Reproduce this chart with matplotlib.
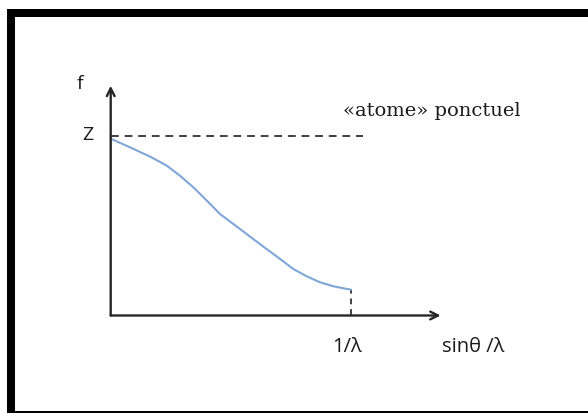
import matplotlib
matplotlib.use("Agg")
import matplotlib.pyplot as plt
from matplotlib.patches import Rectangle

# Atomic scattering factor f versus sin(theta)/lambda (schematic)
s_values = [0.0, 0.080, 0.164, 0.233, 0.288, 0.344, 0.400, 0.455, 0.510,
            0.538, 0.593, 0.649, 0.705, 0.760, 0.816, 0.871, 0.926, 0.982, 1.0]
f_values = [0.985, 0.937, 0.885, 0.835, 0.779, 0.714, 0.640, 0.565, 0.510,
            0.482, 0.426, 0.370, 0.315, 0.259, 0.218, 0.185, 0.163, 0.148, 0.144]
z_level = 1.0          # point atom: f = Z at all angles
s_limit = 1.0          # 1/lambda
point_atom_end = 1.05

label_f = "f"
label_z = "Z"
label_point = "«atome» ponctuel"
label_limit = "1/λ"
label_x = "sinθ /λ"

W, H, DPI = 588, 414, 100
fig = plt.figure(figsize=(W / DPI, H / DPI), dpi=DPI)
fig.patch.set_facecolor("white")

# black picture frame
frame_kw = dict(transform=fig.transFigure, facecolor="black", edgecolor="none")
fig.patches.append(Rectangle((7 / W, 1 - 18 / H), 1 - 7 / W, 8 / H, **frame_kw))
fig.patches.append(Rectangle((7 / W, 0), 8 / W, 1 - 10 / H, **frame_kw))
fig.patches.append(Rectangle((7 / W, 0), 1 - 7 / W, 2.3 / H, **frame_kw))

ax = fig.add_axes([0, 0, 1, 1])
ax.set_xlim(-0.4607, 1.9863)
ax.set_ylim(-0.5432, 1.7632)
ax.axis("off")

axis_color = "#262626"
arrow = dict(arrowstyle="->", lw=1.7, color=axis_color,
             mutation_scale=14, shrinkA=0, shrinkB=0)
ax.annotate("", xy=(1.373, 0), xytext=(0, 0), arrowprops=arrow)
ax.annotate("", xy=(0, 1.28), xytext=(0, 0), arrowprops=arrow)

# point-atom level and cut-off
ax.plot([0, point_atom_end], [z_level, z_level], color="#404040", lw=1.4,
        dashes=(4, 3), solid_capstyle="butt")
ax.plot([s_limit, s_limit], [0, f_values[-1]], color="#404040", lw=1.4,
        dashes=(3, 2.5))

# real atom curve
ax.plot(s_values, f_values, color="#7fa6d9", lw=1.5, solid_capstyle="round",
        solid_joinstyle="round")

sans = ["Open Sans", "DejaVu Sans"]
txt = "#1a1a1a"
ax.text(-0.143, 1.266, label_f, family=sans, fontsize=14, color=txt,
        ha="left", va="baseline")
ax.text(-0.118, 0.983, label_z, family=sans, fontsize=14, color=txt,
        ha="left", va="baseline")
ax.text(0.982, -0.196, label_limit, family=sans, fontsize=14.5, color=txt,
        ha="center", va="baseline")
ax.text(1.377, -0.196, label_x, family=sans, fontsize=14.5, color=txt,
        ha="left", va="baseline")
ax.text(0.967, 1.117, label_point, family="DejaVu Serif", fontsize=14,
        color=txt, ha="left", va="baseline")

fig.savefig("out.png", dpi=DPI, facecolor="white")
